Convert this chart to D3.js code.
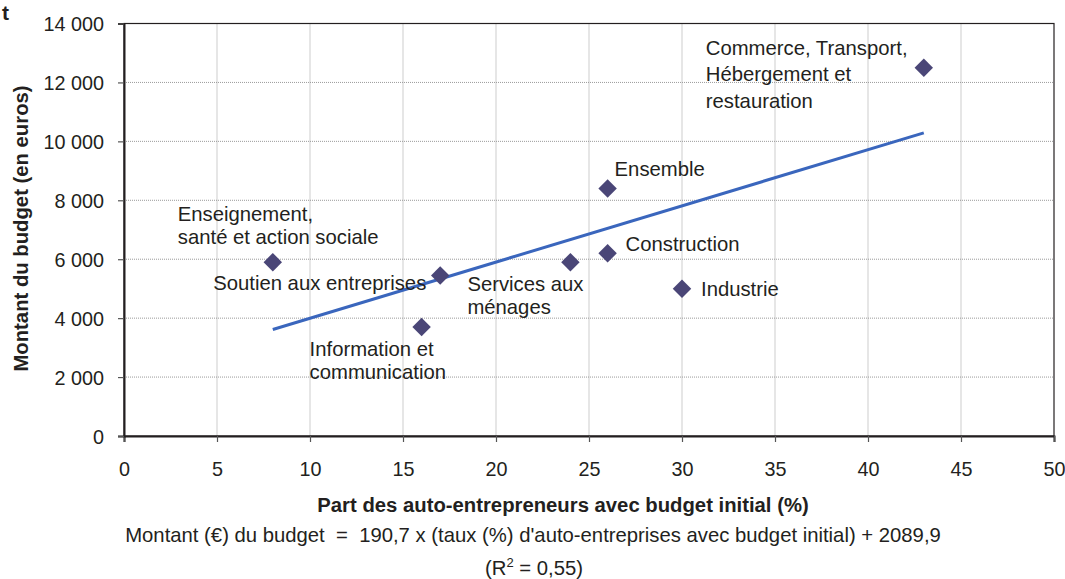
<!DOCTYPE html>
<html>
<head>
<meta charset="utf-8">
<script src="https://cdn.jsdelivr.net/npm/d3@7"></script>
<style>
  body { margin: 0; background: #fff; }
  text { font-family: Arial, "Liberation Sans", sans-serif; fill: #231f20; }
</style>
</head>
<body>
<svg width="1065" height="579"></svg>
<script>
// data
var sectors = ["Commerce, Transport, Hébergement et restauration", "Ensemble", "Construction",
  "Industrie", "Enseignement, santé et action sociale", "Soutien aux entreprises",
  "Information et communication", "Services aux ménages"];
var partPct = [43, 26, 26, 30, 8, 17, 16, 24];
var budget = [12500, 8400, 6200, 5000, 5900, 5450, 3700, 5900];
var xTicks = [0, 5, 10, 15, 20, 25, 30, 35, 40, 45, 50];
var yTicks = [0, 2000, 4000, 6000, 8000, 10000, 12000, 14000];
var slope = 190.7, intercept = 2089.9, r2 = "0,55";

// label layout (lines, offset from the marker, line step)
var labelLines = [["Commerce, Transport,", "Hébergement et", "restauration"], ["Ensemble"], ["Construction"],
  ["Industrie"], ["Enseignement,", "santé et action sociale"], ["Soutien aux entreprises"],
  ["Information et", "communication"], ["Services aux", "ménages"]];
var labelPos = [[-218, -13, 26.6], [7, -13, 0], [18, -2, 0], [19, 7, 0], [-95, -41, 22.7],
  [-227, 15, 0], [-112, 29, 22.7], [-103, 29, 22.5]];

var svg = d3.select("svg"),
    margin = {left: 124, top: 23.5, right: 1054, bottom: 436},
    fs = "20.3px";

var x = d3.scaleLinear().domain([0, 50]).range([margin.left, margin.right]),
    y = d3.scaleLinear().domain([0, 14000]).range([margin.bottom, margin.top]);

var fmt = d3.formatLocale({decimal: ",", thousands: " ", grouping: [3], currency: ["", "€"]}).format(",d");

// grid
svg.append("g").selectAll("line").data(yTicks.slice(1, -1)).enter().append("line")
    .attr("x1", margin.left).attr("x2", margin.right)
    .attr("y1", d => y(d)).attr("y2", d => y(d))
    .attr("stroke", "#9a9a9a").attr("stroke-dasharray", "1,1");
svg.append("g").selectAll("line").data(xTicks.slice(1, -1)).enter().append("line")
    .attr("y1", margin.top).attr("y2", margin.bottom)
    .attr("x1", d => x(d)).attr("x2", d => x(d))
    .attr("stroke", "#9a9a9a").attr("stroke-dasharray", "1,1");

// frame
svg.append("rect").attr("x", margin.left).attr("y", margin.top)
    .attr("width", margin.right - margin.left).attr("height", margin.bottom - margin.top)
    .attr("fill", "none").attr("stroke", "#231f20").attr("stroke-width", 1.2);

// axes
var xAxis = svg.append("g").attr("transform", "translate(0," + margin.bottom + ")")
    .call(d3.axisBottom(x).tickValues(xTicks).tickSize(6).tickPadding(20));
var yAxis = svg.append("g").attr("transform", "translate(" + margin.left + ",0)")
    .call(d3.axisLeft(y).tickValues(yTicks).tickFormat(fmt).tickSize(6).tickPadding(14));
[xAxis, yAxis].forEach(a => {
  a.select(".domain").attr("stroke", "#231f20").attr("stroke-width", 2);
  a.selectAll(".tick line").attr("stroke", "#555").attr("stroke-width", 1.2);
  a.selectAll("text").style("font-size", "19.8px").attr("fill", "#231f20")
      .style("font-family", "Arial, 'Liberation Sans', sans-serif");
});
yAxis.selectAll("text").attr("dy", "0.36em");

// trend line
var ext = d3.extent(partPct);
svg.append("line")
    .attr("x1", x(ext[0])).attr("y1", y(slope * ext[0] + intercept))
    .attr("x2", x(ext[1])).attr("y2", y(slope * ext[1] + intercept))
    .attr("stroke", "#3a66bd").attr("stroke-width", 3);

// points
svg.append("g").selectAll("path").data(sectors).enter().append("path")
    .attr("d", d3.symbol().type(d3.symbolSquare).size(170))
    .attr("transform", (d, i) => "translate(" + x(partPct[i]) + "," + y(budget[i]) + ") rotate(45)")
    .attr("fill", "#4a4677");

// labels
var lab = svg.append("g").selectAll("text").data(sectors).enter().append("text")
    .style("font-size", fs)
    .attr("x", (d, i) => x(partPct[i]) + labelPos[i][0])
    .attr("y", (d, i) => y(budget[i]) + labelPos[i][1]);
lab.each(function(d, i) {
  d3.select(this).selectAll("tspan").data(labelLines[i]).enter().append("tspan")
      .attr("x", x(partPct[i]) + labelPos[i][0])
      .attr("dy", (t, j) => j ? labelPos[i][2] : 0)
      .text(t => t);
});

// titles
svg.append("text").attr("x", 2).attr("y", 20).style("font-size", "21px").style("font-weight", "bold").text("t");
svg.append("text").attr("transform", "translate(28,228.5) rotate(-90)").attr("text-anchor", "middle")
    .style("font-size", fs).style("font-weight", "bold").text("Montant du budget (en euros)");
svg.append("text").attr("x", 563).attr("y", 512).attr("text-anchor", "middle")
    .style("font-size", fs).style("font-weight", "bold")
    .text("Part des auto-entrepreneurs avec budget initial (%)");
svg.append("text").attr("x", 533).attr("y", 542).attr("text-anchor", "middle").style("font-size", fs)
    .text("Montant (€) du budget  =  " + String(slope).replace(".", ",") +
          " x (taux (%) d'auto-entreprises avec budget initial) + " + String(intercept).replace(".", ","))
    .style("white-space", "pre");
var r = svg.append("text").attr("x", 534).attr("y", 575).attr("text-anchor", "middle").style("font-size", fs);
r.append("tspan").text("(R");
r.append("tspan").attr("dy", -8).style("font-size", "13px").text("2");
r.append("tspan").attr("dy", 8).text(" = " + r2 + ")").style("white-space", "pre");
</script>
</body>
</html>
